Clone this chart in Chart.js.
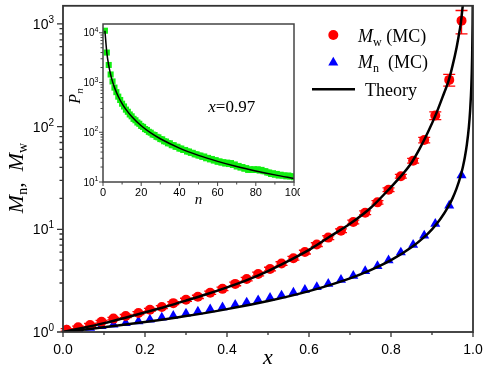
<!DOCTYPE html>
<html><head><meta charset="utf-8">
<script src="https://cdn.jsdelivr.net/npm/chart.js@4.4.0/dist/chart.umd.min.js"></script>
<style>
html,body{margin:0;padding:0;background:#fff;}
#wrap{position:relative;width:485px;height:372px;background:#fff;}
#main{position:absolute;left:0;top:0;}
#inset{position:absolute;left:60px;top:14px;}
</style></head><body>
<div id="wrap">
<canvas id="main" width="485" height="372"></canvas>
<canvas id="inset" width="240" height="200"></canvas>
</div>
<script>
// ---------- main panel data ----------
const mcX = [0.009,0.037,0.066,0.094,0.123,0.153,0.184,0.212,0.241,0.269,0.300,0.329,0.359,0.389,0.420,0.448,0.476,0.505,0.533,0.562,0.590,0.619,0.647,0.678,0.708,0.737,0.767,0.794,0.824,0.854,0.881,0.908,0.942,0.972];
const mwMC = [1.05,1.11,1.17,1.26,1.35,1.43,1.53,1.65,1.75,1.91,2.06,2.20,2.41,2.63,2.94,3.28,3.67,4.10,4.64,5.23,6.0,7.1,8.3,9.7,11.8,14.5,18.3,24.3,32.9,46.6,74,128,285,1075];
const mwErr = [0.03,0.03,0.04,0.04,0.04,0.05,0.05,0.05,0.06,0.06,0.07,0.08,0.09,0.10,0.12,0.13,0.15,0.17,0.19,0.22,0.25,0.3,0.35,0.4,0.5,0.6,0.75,1.0,1.4,2.5,4.5,11,37,275];
const mnMC = [1.04,1.07,1.10,1.14,1.18,1.22,1.27,1.32,1.38,1.44,1.51,1.58,1.66,1.74,1.84,1.94,2.04,2.15,2.27,2.42,2.57,2.74,2.95,3.22,3.52,3.92,4.38,4.98,5.95,7.05,8.7,11.3,17.0,33.6];
const theoryWX = [0,0.05,0.1,0.15,0.2,0.25,0.3,0.35,0.4,0.45,0.5,0.55,0.6,0.65,0.7,0.75,0.8,0.83,0.85,0.87,0.89,0.91,0.93,0.94,0.95,0.96,0.965,0.97,0.975];
const theoryMw = [1.0,1.1,1.22,1.37,1.55,1.76,2.02,2.33,2.72,3.22,3.92,4.92,6.3,8.45,11.3,16.1,25.8,35,44.5,61,88,133,215,275,390,590,760,1000,1500];
const theoryNX = [0,0.1,0.2,0.3,0.4,0.5,0.6,0.7,0.75,0.8,0.85,0.88,0.9,0.92,0.94,0.95,0.96,0.97,0.975,0.98,0.985,0.99,0.993,0.995,0.996,0.997,0.998,0.999,0.9993,0.9995];
const theoryMn = [1.0,1.11,1.25,1.43,1.67,2.0,2.5,3.33,4.0,5.0,6.67,8.33,10,12.5,16.7,20,25,33.3,40,50,66.7,100,143,200,250,333,500,1000,1430,2000];
const xMajorTicks = [0,0.2,0.4,0.6,0.8,1.0];
const xTickLabels = ['0.0','0.2','0.4','0.6','0.8','1.0'];
const xMinorTicks = [0.1,0.3,0.5,0.7,0.9];
const yMajorTicks = [1,10,100,1000];
const yTickExp = ['0','1','2','3'];
const yMinorTicks = [2,3,4,5,6,7,8,9,20,30,40,50,60,70,80,90,200,300,400,500,600,700,800,900];

// ---------- inset data ----------
const pnMC = [11000,4000,2250,1450,1050,790,640,520,445,375,330,285,258,228,209,186,174,157,148,134,
 128,116,111,102,98,90,88,81,79,73,72,66,65,60,60,55,55,51,51,47,
 47,44,44,41,41,38.5,38.5,36,36,34,34,32,32.5,30,30.5,28.5,29,27,27.5,25.5,
 26,24.5,25,23.5,24.5,23,24,22,22.5,20.5,21,19.5,20,18.5,19,17.5,18,17.5,18,17.5,
 18,17,17.5,16.5,16.5,15.5,15.5,14.5,15,14,14.5,13.5,14,13.5,13.5,13,13.5,13,13,12.5];
const theoryPnN = [1,2,3,4,5,6,8,10,12,15,20,25,30,40,50,60,70,80,90,100];
const theoryPn = [11000,4000,2200,1445,1042,798,523,377,288,207,135,97,74,48.1,34.3,26.0,20.5,16.7,13.9,11.8];
const insetXMajor = [0,20,40,60,80,100];
const insetXMinor = [10,30,50,70,90];
const insetYMajor = [10,100,1000,10000];
const insetYExp = ['1','2','3','4'];
const insetYMinor = [20,30,40,50,60,70,80,90,200,300,400,500,600,700,800,900,2000,3000,4000,5000,6000,7000,8000,9000];

const SERIF = '"Liberation Serif", "Times New Roman", serif';
const SANS = '"Liberation Sans", Arial, sans-serif';

function richText(ctx, parts, x, y, align){
  let w = 0;
  parts.forEach(p => { ctx.font = p[1]; p.w = ctx.measureText(p[0]).width; w += p.w; });
  let cx = align === 'right' ? x - w : (align === 'center' ? x - w/2 : x);
  ctx.textAlign = 'left';
  parts.forEach(p => { ctx.font = p[1]; ctx.fillText(p[0], cx, y + (p[2]||0)); cx += p.w; });
}

const mainDecor = {
  id: 'mainDecor',
  beforeDatasetsDraw(chart){
    const {ctx, scales:{x, y}} = chart;
    ctx.save();
    ctx.strokeStyle = '#ff0000'; ctx.lineWidth = 1.3;
    mcX.forEach((xv, i) => {
      const px = x.getPixelForValue(xv);
      const lo = y.getPixelForValue(mwMC[i] - mwErr[i]);
      const hi = y.getPixelForValue(mwMC[i] + mwErr[i]);
      ctx.beginPath();
      ctx.moveTo(px, lo); ctx.lineTo(px, hi);
      ctx.moveTo(px-6, lo); ctx.lineTo(px+6, lo);
      ctx.moveTo(px-6, hi); ctx.lineTo(px+6, hi);
      ctx.stroke();
    });
    ctx.restore();
  },
  afterDraw(chart){
    const {ctx, chartArea:a, scales:{x, y}} = chart;
    ctx.save();
    ctx.strokeStyle = '#333'; ctx.lineWidth = 1.8;
    ctx.strokeRect(a.left, a.top, a.right - a.left, a.bottom - a.top);
    ctx.lineWidth = 1.3;
    ctx.beginPath();
    yMajorTicks.forEach(v => { const p = y.getPixelForValue(v); ctx.moveTo(a.left - 6, p); ctx.lineTo(a.left, p); });
    yMinorTicks.forEach(v => { const p = y.getPixelForValue(v); ctx.moveTo(a.left - 3.5, p); ctx.lineTo(a.left, p); });
    xMajorTicks.forEach(v => { const p = x.getPixelForValue(v); ctx.moveTo(p, a.bottom); ctx.lineTo(p, a.bottom + 5); });
    xMinorTicks.forEach(v => { const p = x.getPixelForValue(v); ctx.moveTo(p, a.bottom); ctx.lineTo(p, a.bottom + 3); });
    ctx.stroke();
    ctx.fillStyle = '#000'; ctx.textBaseline = 'alphabetic';
    yMajorTicks.forEach((v, i) => {
      const p = y.getPixelForValue(v);
      richText(ctx, [['10', '14px ' + SANS, 0], [yTickExp[i], '10px ' + SANS, -6]], 54, p + 5, 'right');
    });
    ctx.font = '14px ' + SANS; ctx.textAlign = 'center';
    xMajorTicks.forEach((v, i) => { ctx.fillText(xTickLabels[i], x.getPixelForValue(v), 353.5); });
    // axis titles
    richText(ctx, [['x', 'italic 22px ' + SERIF, 0]], (a.left + a.right)/2, 364, 'center');
    ctx.save();
    ctx.translate(23, 178); ctx.rotate(-Math.PI/2);
    richText(ctx, [['M', 'italic 22px ' + SERIF, 0], ['n', '14px ' + SERIF, 4], [',  ', '22px ' + SERIF, 0],
                   ['M', 'italic 22px ' + SERIF, 0], ['w', '14px ' + SERIF, 4]], 0, 0, 'center');
    ctx.restore();
    // legend
    ctx.fillStyle = '#ff0000';
    Chart.helpers.drawPoint(ctx, {pointStyle:'circle', radius:5, rotation:0, borderWidth:0}, 333.3, 35);
    ctx.fillStyle = '#0000ff';
    Chart.helpers.drawPoint(ctx, {pointStyle:'triangle', radius:5.8, rotation:0, borderWidth:0}, 333.3, 62.5);
    ctx.strokeStyle = '#000'; ctx.lineWidth = 2.5;
    ctx.beginPath(); ctx.moveTo(312, 89.3); ctx.lineTo(355, 89.3); ctx.stroke();
    ctx.fillStyle = '#000';
    richText(ctx, [['M', 'italic 18px ' + SERIF, 0], ['w', '12px ' + SERIF, 4], [' (MC)', '18px ' + SERIF, 0]], 358, 41.7, 'left');
    richText(ctx, [['M', 'italic 18px ' + SERIF, 0], ['n', '12px ' + SERIF, 4], ['  (MC)', '18px ' + SERIF, 0]], 358, 68.3, 'left');
    richText(ctx, [['Theory', '18px ' + SERIF, 0]], 365, 96, 'left');
    ctx.restore();
  }
};

const insetDecor = {
  id: 'insetDecor',
  afterDraw(chart){
    const {ctx, chartArea:a, scales:{x, y}} = chart;
    ctx.save();
    ctx.strokeStyle = '#444'; ctx.lineWidth = 1.5;
    ctx.strokeRect(a.left, a.top, a.right - a.left, a.bottom - a.top);
    ctx.lineWidth = 1;
    ctx.beginPath();
    insetYMajor.forEach(v => { const p = y.getPixelForValue(v); ctx.moveTo(a.left - 4, p); ctx.lineTo(a.left, p); });
    insetYMinor.forEach(v => { const p = y.getPixelForValue(v); ctx.moveTo(a.left - 2.5, p); ctx.lineTo(a.left, p); });
    insetXMajor.forEach(v => { const p = x.getPixelForValue(v); ctx.moveTo(p, a.bottom); ctx.lineTo(p, a.bottom + 4); });
    insetXMinor.forEach(v => { const p = x.getPixelForValue(v); ctx.moveTo(p, a.bottom); ctx.lineTo(p, a.bottom + 2.5); });
    ctx.stroke();
    ctx.fillStyle = '#000'; ctx.textBaseline = 'alphabetic';
    insetYMajor.forEach((v, i) => {
      const p = y.getPixelForValue(v);
      richText(ctx, [['10', '10px ' + SANS, 0], [insetYExp[i], '7px ' + SANS, -4.5]], 38.5, p + 3.6, 'right');
    });
    ctx.font = '11px ' + SANS; ctx.textAlign = 'center';
    insetXMajor.forEach(v => { ctx.fillText(String(v), x.getPixelForValue(v), 182); });
    richText(ctx, [['n', 'italic 15px ' + SERIF, 0]], x.getPixelForValue(50), 189.5, 'center');
    ctx.save();
    ctx.translate(20, 82); ctx.rotate(-Math.PI/2);
    richText(ctx, [['P', 'italic 16px ' + SERIF, 0], ['n', 'italic 11px ' + SERIF, 3]], 0, 0, 'center');
    ctx.restore();
    richText(ctx, [['x', 'italic 17px ' + SERIF, 0], ['=0.97', '17px ' + SERIF, 0]], 148.3, 97.7, 'left');
    ctx.restore();
  }
};

const mainChart = new Chart(document.getElementById('main'), {
  type: 'scatter',
  data: { datasets: [
    { label: 'Theory Mw', data: theoryWX.map((v, i) => ({x: v, y: theoryMw[i]})), showLine: true,
      borderColor: '#000', borderWidth: 2.5, pointRadius: 0, cubicInterpolationMode: 'monotone', fill: false },
    { label: 'Theory Mn', data: theoryNX.map((v, i) => ({x: v, y: theoryMn[i]})), showLine: true,
      borderColor: '#000', borderWidth: 2.5, pointRadius: 0, cubicInterpolationMode: 'monotone', fill: false },
    { label: 'Mw (MC)', data: mcX.map((v, i) => ({x: v, y: mwMC[i]})), showLine: false,
      pointStyle: 'circle', pointRadius: 5, backgroundColor: '#ff0000', borderColor: '#ff0000', borderWidth: 0 },
    { label: 'Mn (MC)', data: mcX.map((v, i) => ({x: v, y: mnMC[i]})), showLine: false,
      pointStyle: 'triangle', pointRadius: 5.8, backgroundColor: '#0000ff', borderColor: '#0000ff', borderWidth: 0 }
  ]},
  options: {
    responsive: false, animation: false,
    layout: { padding: { left: 63, right: 12, top: 2, bottom: 40 } },
    plugins: { legend: { display: false }, tooltip: { enabled: false } },
    scales: {
      x: { type: 'linear', min: 0, max: 1, display: false },
      y: { type: 'logarithmic', min: 1, max: 1500, display: false }
    }
  },
  plugins: [mainDecor]
});

const insetChart = new Chart(document.getElementById('inset'), {
  type: 'scatter',
  data: { datasets: [
    { label: 'Theory', data: theoryPnN.map((v, i) => ({x: v, y: theoryPn[i]})), showLine: true,
      borderColor: '#000', borderWidth: 1.5, pointRadius: 0, cubicInterpolationMode: 'monotone', fill: false },
    { label: 'MC', data: pnMC.map((v, i) => ({x: i + 1, y: v})), showLine: false,
      pointStyle: 'rect', pointRadius: 4.3, backgroundColor: '#11ee11', borderColor: '#11ee11', borderWidth: 0 }
  ]},
  options: {
    responsive: false, animation: false,
    layout: { padding: { left: 43, right: 6, top: 10, bottom: 32 } },
    plugins: { legend: { display: false }, tooltip: { enabled: false } },
    scales: {
      x: { type: 'linear', min: 0, max: 100, display: false },
      y: { type: 'logarithmic', min: 10, max: 15000, display: false }
    }
  },
  plugins: [insetDecor]
});
</script>
</body></html>
